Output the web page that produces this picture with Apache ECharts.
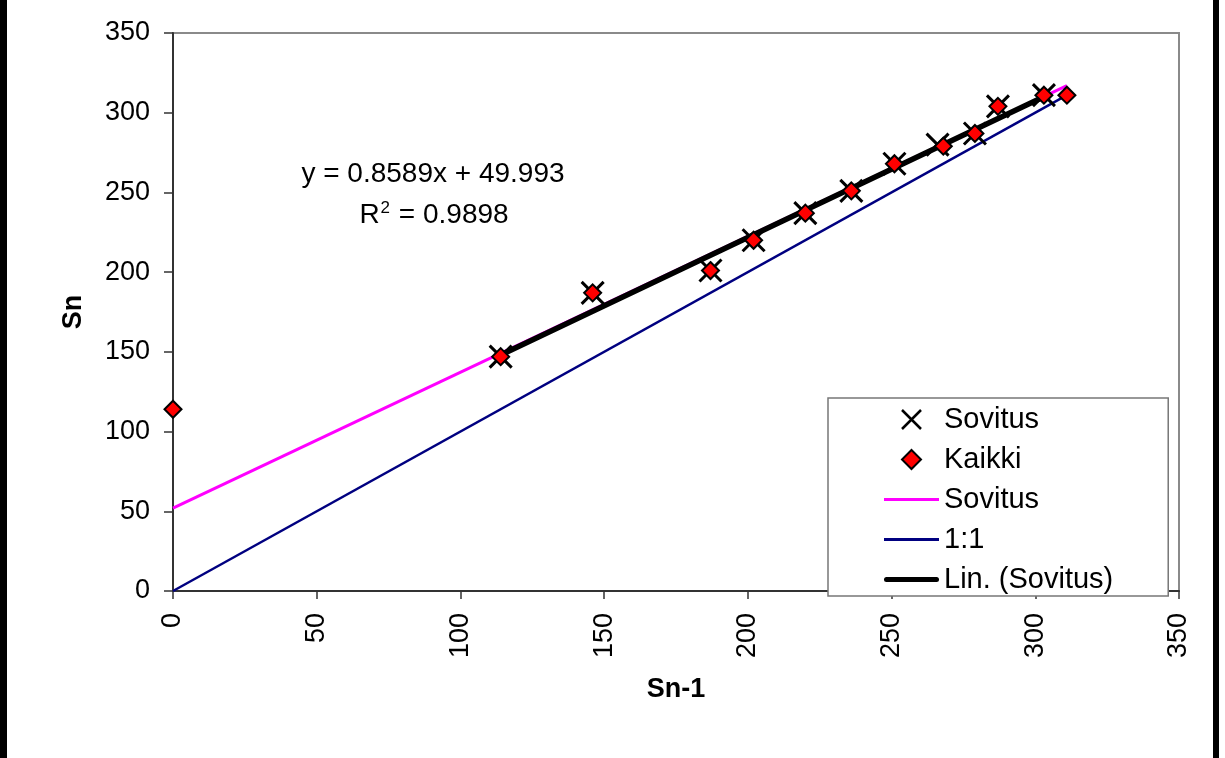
<!DOCTYPE html>
<html><head><meta charset="utf-8">
<script src="https://cdn.jsdelivr.net/npm/echarts@6/dist/echarts.min.js"></script>
<style>html,body{margin:0;padding:0;background:#fff}#c{width:1225px;height:758px}</style>
</head><body><div id="c"></div>
<script>
// Data
const kaikkiX = [0, 114, 146, 187, 202, 220, 236, 251, 268, 279, 287, 303, 311];
const kaikkiY = [114, 147, 187, 201, 220, 237, 251, 268, 279, 287, 304, 311, 311];
const sovitusX = [114, 146, 187, 202, 220, 236, 251, 266, 279, 287, 303];
const sovitusY = [147, 187, 201, 220, 237, 251, 268, 280, 287, 304, 311];
const fitLineX = [0, 311];
const fitLineY = [52, 317];
const oneToOneX = [0, 311];
const oneToOneY = [0, 311];
const trendX = [114, 303];
const trendY = [148, 310];
const eqText = 'y = 0.8589x + 49.993';
const r2Value = '0.9898';

const pairs = (xs, ys) => xs.map((x, i) => [x, ys[i]]);
const FONT = "'Liberation Sans', Arial, sans-serif";

const X_PATH = 'path://M0,0L10,10M10,0L0,10';
const DIAMOND_PATH = 'path://M5,0L10,5L5,10L0,5Z';
const THIN_LINE = 'path://M0,0L55,0L55,3L0,3Z';
const THICK_LINE = 'path://M2.5,0L52.5,0A2.5,2.5,0,0,1,52.5,5L2.5,5A2.5,2.5,0,0,1,2.5,0Z';

const chart = echarts.init(document.getElementById('c'), null, {renderer: 'canvas'});
chart.setOption({
  backgroundColor: '#fff',
  animation: false,
  textStyle: {fontFamily: FONT, color: '#000'},
  grid: {left: 173, right: 46, top: 33, bottom: 167, show: true, borderColor: '#8a8a8a', borderWidth: 2, backgroundColor: '#fff'},
  xAxis: {
    type: 'value', min: 0, max: 350, interval: 50,
    name: 'Sn-1', nameLocation: 'middle', nameGap: 85,
    nameTextStyle: {fontSize: 27, fontWeight: 'bold', color: '#000', fontFamily: FONT},
    axisLine: {show: true, onZero: false, lineStyle: {color: '#333', width: 2}},
    axisTick: {show: true, inside: false, length: 8, lineStyle: {color: '#333', width: 1.5}},
    axisLabel: {rotate: 90, margin: 22, fontSize: 27, color: '#000', fontFamily: FONT},
    splitLine: {show: false}
  },
  yAxis: {
    type: 'value', min: 0, max: 350, interval: 50,
    name: 'Sn', nameLocation: 'middle', nameGap: 86, nameRotate: 90,
    nameTextStyle: {fontSize: 27, fontWeight: 'bold', color: '#000', fontFamily: FONT},
    axisLine: {show: true, onZero: false, lineStyle: {color: '#333', width: 2}},
    axisTick: {show: true, inside: false, length: 9, lineStyle: {color: '#333', width: 1.5}},
    axisLabel: {margin: 23, fontSize: 27, color: '#000', fontFamily: FONT},
    splitLine: {show: false}
  },
  legend: {
    orient: 'vertical', left: 828, top: 398,
    padding: [7, 55, 2, 56],
    itemWidth: 55, itemHeight: 19, itemGap: 11,
    symbolKeepAspect: true,
    backgroundColor: '#fff', borderColor: '#777', borderWidth: 1.5, borderRadius: 0,
    textStyle: {fontSize: 29, color: '#000', fontFamily: FONT},
    selectedMode: false,
    data: [
      {name: 'Sovitus', icon: X_PATH, itemStyle: {color: 'rgba(0,0,0,0)', borderColor: '#000', borderWidth: 2.5, opacity: 1}},
      {name: 'Kaikki', icon: DIAMOND_PATH, itemStyle: {color: '#ff0000', borderColor: '#000', borderWidth: 2, opacity: 1}},
      {name: 'Sovitus ', icon: THIN_LINE, itemStyle: {color: '#ff00ff', borderWidth: 0}},
      {name: '1:1', icon: THIN_LINE, itemStyle: {color: '#000080', borderWidth: 0}},
      {name: 'Lin. (Sovitus)', icon: THICK_LINE, itemStyle: {color: '#000', borderWidth: 0}}
    ]
  },
  series: [
    {
      name: 'Sovitus', type: 'scatter', z: 4,
      data: pairs(sovitusX, sovitusY),
      symbol: X_PATH, symbolSize: 22,
      itemStyle: {color: 'rgba(0,0,0,0)', borderColor: '#000', borderWidth: 3, opacity: 1}
    },
    {
      name: 'Kaikki', type: 'scatter', z: 5,
      data: pairs(kaikkiX, kaikkiY),
      symbol: 'diamond', symbolSize: 17,
      itemStyle: {color: '#ff0000', borderColor: '#000', borderWidth: 2, opacity: 1}
    },
    {
      name: 'Sovitus ', type: 'line', z: 2, showSymbol: false, symbol: 'none',
      data: pairs(fitLineX, fitLineY),
      lineStyle: {color: '#ff00ff', width: 3}, itemStyle: {color: '#ff00ff'}
    },
    {
      name: '1:1', type: 'line', z: 2, showSymbol: false, symbol: 'none',
      data: pairs(oneToOneX, oneToOneY),
      lineStyle: {color: '#000080', width: 2.5}, itemStyle: {color: '#000080'}
    },
    {
      name: 'Lin. (Sovitus)', type: 'line', z: 3, showSymbol: false, symbol: 'none',
      data: pairs(trendX, trendY),
      lineStyle: {color: '#000', width: 5.5, cap: 'round'}, itemStyle: {color: '#000'}
    }
  ],
  graphic: [
    {type: 'rect', left: 0, top: 0, shape: {width: 7, height: 758}, style: {fill: '#000'}, z: 100},
    {type: 'rect', left: 1213, top: 0, shape: {width: 6, height: 758}, style: {fill: '#000'}, z: 100},
    {type: 'text', x: 433, y: 174, z: 50,
      style: {text: eqText, font: "28px 'Liberation Sans', Arial, sans-serif", fill: '#000', align: 'center', verticalAlign: 'middle'}},
    {type: 'text', x: 434, y: 215, z: 50,
      style: {text: 'R{s|2} = ' + r2Value, font: "28px 'Liberation Sans', Arial, sans-serif", fill: '#000', align: 'center', verticalAlign: 'middle',
        rich: {s: {fontSize: 17, fontFamily: FONT, verticalAlign: 'top', padding: [0, 1, 14, 1]}}}}
  ]
});
</script></body></html>
